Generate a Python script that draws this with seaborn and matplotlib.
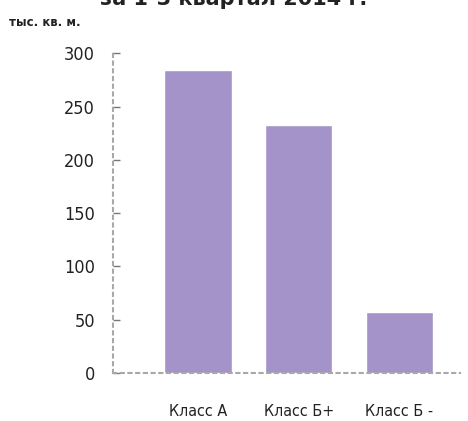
import matplotlib
matplotlib.use("Agg")
import matplotlib.pyplot as plt
import seaborn as sns
import pandas as pd

categories = ["Класс А", "Класс Б+", "Класс Б -"]
values = [284, 233, 57]
yticks = [0, 50, 100, 150, 200, 250, 300]
unit_label = "тыс. кв. м."
title_text = "за 1-3 квартал 2014 г."

df = pd.DataFrame({"cat": categories, "val": values})

sns.set_theme(style="white")
plt.rcParams['font.family'] = ['DejaVu Sans']

fig = plt.figure(figsize=(4.68, 4.21), dpi=100)
ax = fig.add_axes([0.2415, 0.114, 0.7415, 0.762])

sns.barplot(data=df, x="cat", y="val", color="#A393C8", saturation=1,
            width=0.67, ax=ax)

ax.set_ylim(0, 301)
ax.set_xlim(-0.84, 2.6)
ax.set_yticks(yticks)
ax.set_yticklabels([str(t) for t in yticks], fontsize=13, fontstretch='condensed',
                   color="#222222")
ax.set_xticks(range(len(categories)))
ax.set_xticklabels(categories, fontsize=11.5, fontstretch='condensed', color="#222222")
ax.set_xlabel("")
ax.set_ylabel("")

for s in ["top", "right"]:
    ax.spines[s].set_visible(False)
for s in ["left", "bottom"]:
    ax.spines[s].set_visible(True)
    ax.spines[s].set_color("#a8a8a8")
    ax.spines[s].set_linestyle((0, (1.5, 2.2)))
    ax.spines[s].set_linewidth(1.5)

ax.tick_params(axis="y", direction="in", length=5, width=1, color="#777777", pad=13,
               left=True)
ax.tick_params(axis="x", bottom=False, pad=16)

fig.text(0.02, 1 - 22 / 421, unit_label, fontsize=8.5, fontweight="bold",
         color="#222222", va="center", ha="left")
fig.text(0.50, 1 - 5 / 421, title_text, fontsize=15, fontweight="bold",
         color="#222222", va="baseline", ha="center")

fig.savefig("out.png", dpi=100)
